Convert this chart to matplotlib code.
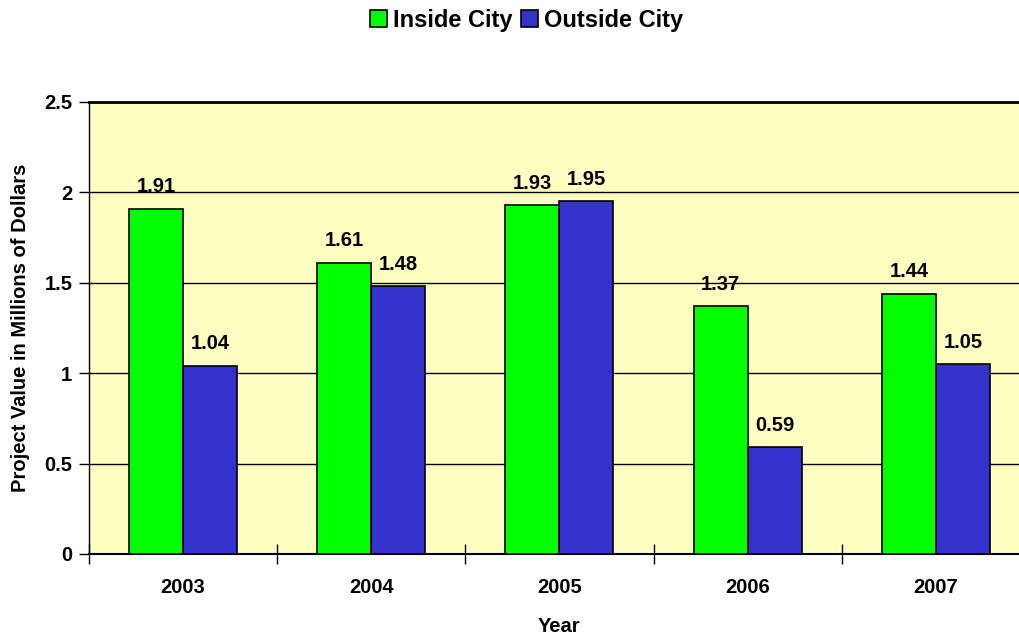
import numpy as np
import matplotlib.pyplot as plt

years = ["2003", "2004", "2005", "2006", "2007"]
inside_city = [1.91, 1.61, 1.93, 1.37, 1.44]
outside_city = [1.04, 1.48, 1.95, 0.59, 1.05]

plt.rcParams['font.family'] = ['Liberation Sans', 'DejaVu Sans']
plt.rcParams['font.weight'] = 'bold'

fig = plt.figure(figsize=(10.19, 6.37), dpi=100)
ax = fig.add_axes([0.0873, 0.1303, 0.9235, 0.7096])
ax.set_facecolor("#FFFFC0")

x = np.arange(len(years))
w = 0.287
b1 = ax.bar(x - w / 2, inside_city, w, color="#00FF00", edgecolor="black",
            linewidth=1.2, label="Inside City", zorder=3)
b2 = ax.bar(x + w / 2, outside_city, w, color="#3333CC", edgecolor="black",
            linewidth=1.2, label="Outside City", zorder=3)

for bars, vals in ((b1, inside_city), (b2, outside_city)):
    for rect, v in zip(bars, vals):
        ax.annotate(f"{v:.2f}", (rect.get_x() + rect.get_width() / 2, v),
                    xytext=(0, 9), textcoords="offset points",
                    ha="center", va="bottom", fontsize=14.5, fontweight="bold")

ax.set_xlim(-0.5, len(years) - 0.5)
ax.set_ylim(0, 2.5)
ax.set_yticks([0, 0.5, 1, 1.5, 2, 2.5])
ax.set_yticklabels(["0", "0.5", "1", "1.5", "2", "2.5"], fontsize=14.5, fontweight="bold")
ax.yaxis.grid(True, color="black", linewidth=1.0, zorder=1)
ax.set_axisbelow(True)

ax.set_xticks(x)
ax.set_xticklabels(years, fontsize=14.5, fontweight="bold")
ax.tick_params(axis="x", which="major", length=0, pad=17)
ax.set_xticks(np.arange(-0.5, len(years) + 0.5, 1), minor=True)
ax.tick_params(axis="x", which="minor", length=14, direction="inout", width=1)
ax.tick_params(axis="y", length=7, width=1, direction="out", pad=5)

ax.spines["right"].set_visible(False)
ax.spines["top"].set_linewidth(2)
ax.spines["left"].set_linewidth(1)
ax.spines["bottom"].set_linewidth(1.5)

ax.set_xlabel("Year", fontsize=14.5, fontweight="bold", labelpad=15)
ax.set_ylabel("Project Value in Millions of Dollars", fontsize=14.5,
              fontweight="bold", labelpad=10)

fig.legend(handles=[b1, b2], loc="upper center", bbox_to_anchor=(0.517, 1.02),
           ncol=2, frameon=False, prop={"weight": "bold", "size": 17},
           handlelength=0.72, handleheight=0.72, handletextpad=0.25, columnspacing=0.35)

fig.savefig("out.png", dpi=100)
